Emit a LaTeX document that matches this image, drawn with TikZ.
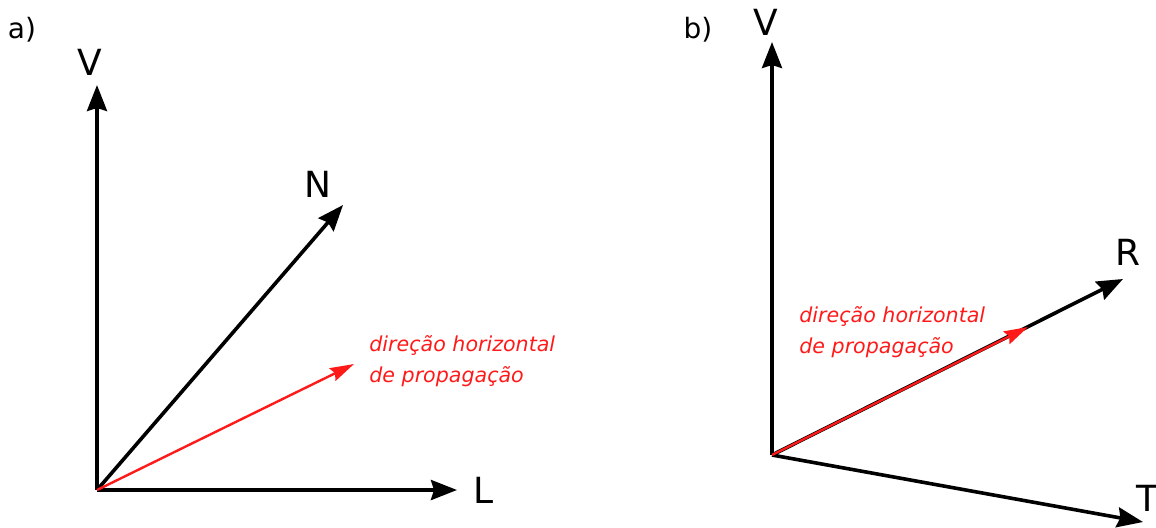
\documentclass[tikz,border=0pt]{standalone}
\usepackage{fontspec}
\setmainfont{DejaVu Sans}
\usetikzlibrary{arrows.meta}
\definecolor{dirred}{HTML}{FF1A1A}

\begin{document}
\begin{tikzpicture}[
    x=0.5pt,y=-0.5pt,
    axis/.style={-{Stealth[length=13pt,width=10pt,inset=1.5pt]},line width=1.8pt,draw=black},
    dirvec/.style={-{Stealth[length=12pt,width=7pt,inset=1.5pt]},line width=1.2pt,draw=dirred},
    axlabel/.style={font=\fontsize{18}{21}\selectfont,inner sep=0pt},
    panel/.style={font=\fontsize{14}{16}\selectfont,inner sep=0pt},
    dirtext/.style={font=\fontsize{10.3}{15.5}\selectfont\itshape,text=dirred,align=left,inner sep=0pt}
  ]
    \useasboundingbox (0,0) rectangle (1156,527);
    % panel a
    \coordinate (oa) at (97,490);
    \coordinate (va) at (97,85);
    \coordinate (la) at (457,490);
    \coordinate (na) at (343,205);
    \coordinate (ha) at (354,364);
    \node[panel] (pa) at (22,30) {a)};
    \node[axlabel] (vla) at (90,62) {V};
    \node[axlabel] (nla) at (318,184) {N};
    \node[axlabel] (lla) at (484,490) {L};
    \node[dirtext,anchor=west] (da) at (369,361) {direção horizontal\\de propagação};
    \draw[axis] (oa) -- (va);
    \draw[axis] (oa) -- (la);
    \draw[axis] (oa) -- (na);
    \draw[dirvec] (oa) -- (ha);
    % panel b
    \coordinate (ob) at (772,455);
    \coordinate (vb) at (772,42);
    \coordinate (rb) at (1123,279);
    \coordinate (tb) at (1143,522);
    \coordinate (hb) at (1028,327);
    \node[panel] (pb) at (698,30) {b)};
    \node[axlabel] (vlb) at (766,22) {V};
    \node[axlabel] (rlb) at (1128,252) {R};
    \node[axlabel] (tlb) at (1147,498) {T};
    \node[dirtext,anchor=west] (db) at (799,332) {direção horizontal\\de propagação};
    \draw[axis] (ob) -- (vb);
    \draw[axis] (ob) -- (rb);
    \draw[axis] (ob) -- (tb);
    \draw[dirvec] (ob) -- (hb);
\end{tikzpicture}
\end{document}
